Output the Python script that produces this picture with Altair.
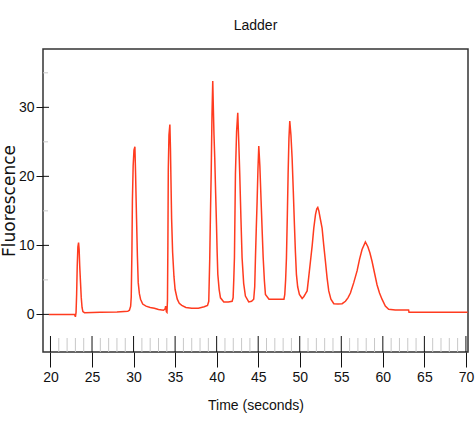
import altair as alt
import pandas as pd

# ---- data ----
time_s = [
    19.8, 22.9, 23.0, 23.08, 23.15, 23.22, 23.3, 23.38, 23.45, 23.52, 23.6, 23.7, 23.8, 23.9, 24.1, 26.0, 28.0, 29.3,
    29.5, 29.65, 29.72, 29.8, 29.86, 29.95, 30.05, 30.16, 30.24, 30.3, 30.36, 30.46, 30.56, 30.7, 30.84, 31.1, 31.5,
    32.0, 32.5, 33.0, 33.6, 33.8, 33.86, 33.95, 34.02,
    34.08, 34.13, 34.18, 34.26, 34.37, 34.44, 34.5, 34.58, 34.7, 34.86, 35.0, 35.26, 35.5, 35.8, 36.3, 37.0, 37.8,
    38.5, 38.9, 39.05,
    39.17, 39.26, 39.34, 39.44, 39.53, 39.6, 39.68, 39.77, 39.88, 39.98, 40.06, 40.14, 40.3, 40.46, 40.86, 41.4, 41.86,
    41.98, 42.06, 42.14, 42.26, 42.4, 42.54, 42.66, 42.78, 42.92, 43.06, 43.25, 43.46, 43.86, 44.2, 44.46,
    44.58, 44.67, 44.77, 44.87, 44.97, 45.07, 45.2, 45.35, 45.48, 45.6, 45.75, 45.87, 46.3, 47.2, 48.1,
    48.2, 48.3, 48.4, 48.5, 48.6, 48.7, 48.8, 48.94, 49.08, 49.22, 49.36, 49.48, 49.6, 49.75, 49.96, 50.29,
    50.5, 50.7, 50.89, 51.09, 51.29, 51.5, 51.69, 51.9, 52.05, 52.17, 52.3, 52.45, 52.69, 52.89, 53.09, 53.29, 53.49,
    53.75, 54.1, 54.6, 55.1,
    55.5, 55.8, 56.1, 56.5, 56.9, 57.2, 57.5, 57.9, 58.2, 58.45, 58.7, 59.0, 59.3, 59.6, 59.9, 60.3, 60.7, 61.5,
    63.1, 63.15, 70.2,
]
fluorescence = [
    0.0, 0.0, -0.35, 0.3, 3.0, 7.0, 9.8, 10.4, 9.4, 7.0, 5.0, 2.5, 1.0, 0.4, 0.25, 0.3, 0.35, 0.45,
    0.6, 1.2, 2.5, 9.0, 16.5, 21.5, 23.8, 24.3, 20.5, 17.0, 13.8, 8.5, 4.6, 3.0, 2.2, 1.5, 1.2,
    1.0, 0.9, 0.7, 0.6, 0.8, 1.2, 0.4, 0.3,
    2.0, 10.0, 21.0, 26.0, 27.5, 24.0, 19.5, 13.8, 9.0, 5.5, 3.6, 2.2, 1.6, 1.3, 1.0, 0.9, 0.9,
    1.1, 1.3, 1.9,
    8.2, 15.0, 20.3, 29.0, 33.8, 30.0, 26.0, 22.7, 17.5, 13.0, 9.0, 5.8, 3.6, 2.4, 1.8, 1.8, 1.9,
    2.4, 5.0, 8.2, 20.3, 26.5, 29.2, 25.0, 20.3, 14.0, 8.2, 4.5, 2.65, 1.8, 1.9, 2.2,
    4.0, 8.2, 12.5, 16.4, 21.0, 24.4, 21.5, 16.4, 12.0, 8.2, 4.8, 2.9, 2.2, 2.2, 2.2,
    2.9, 5.0, 8.2, 14.0, 20.3, 25.5, 28.0, 26.0, 22.7, 18.0, 13.0, 9.0, 5.8, 4.0, 2.9, 2.3,
    2.6, 3.0, 3.4, 5.5, 7.7, 10.0, 12.5, 14.5, 15.3, 15.5, 15.0, 14.0, 12.5, 10.0, 7.7, 5.3, 3.4,
    2.2, 1.55, 1.5, 1.55,
    1.9, 2.4, 3.1, 4.6, 6.3, 8.0, 9.4, 10.5, 9.8, 8.9, 7.7, 6.0, 4.3, 3.1, 2.2, 1.2, 0.75, 0.65,
    0.65, 0.3, 0.3,
]

x_major_ticks = [20, 25, 30, 35, 40, 45, 50, 55, 60, 65, 70]
x_minor_ticks = [t for t in range(20, 70) if t % 5 != 0]
y_major_ticks = [0, 10, 20, 30]
y_minor_ticks = [5, 15, 25, 35]

X_DOMAIN = [19.1, 70.25]
Y_DOMAIN = [-5.45, 38.45]
W, H = 425, 303

SANS = "Liberation Sans"

df = pd.DataFrame({"time": time_s, "fluorescence": fluorescence})

xscale = alt.Scale(domain=X_DOMAIN, nice=False, zero=False)
yscale = alt.Scale(domain=Y_DOMAIN, nice=False, zero=False)

xaxis = alt.Axis(values=x_major_ticks, title="Time (seconds)", format="d",
                 tickSize=15, labelPadding=3, labelFlush=False, labelOverlap=False,
                 titleY=46, titleBaseline="top")
yaxis = alt.Axis(values=y_major_ticks, title="Fluorescence", format="d",
                 tickSize=7, labelPadding=2, labelFlush=False,
                 titleX=-25, titleY=H / 2, titleAngle=270,
                 titleBaseline="bottom", titleAlign="center",
                 titleFont="DejaVu Sans", titleFontSize=17)

xenc = alt.X("time:Q", scale=xscale, axis=xaxis, title="Time (seconds)")
yenc = alt.Y("fluorescence:Q", scale=yscale, axis=yaxis, title="Fluorescence")

line = alt.Chart(df).mark_line(color="#ff3b1f", strokeWidth=1.5, interpolate="linear").encode(
    x=xenc, y=yenc,
)

xminor = alt.Chart(pd.DataFrame({"time": x_minor_ticks})).mark_rule(
    color="#c8c8c8", strokeWidth=1).encode(
    x=xenc, y=alt.value(H - 14), y2=alt.value(H),
)
xmajor = alt.Chart(pd.DataFrame({"time": x_major_ticks})).mark_rule(
    color="#111111", strokeWidth=1).encode(
    x=xenc, y=alt.value(H - 16), y2=alt.value(H),
)
yminor = alt.Chart(pd.DataFrame({"fluorescence": y_minor_ticks})).mark_rule(
    color="#c8c8c8", strokeWidth=1).encode(
    y=yenc, x=alt.value(0), x2=alt.value(5),
)
ymajor = alt.Chart(pd.DataFrame({"fluorescence": y_major_ticks})).mark_rule(
    color="#111111", strokeWidth=1).encode(
    y=yenc, x=alt.value(0), x2=alt.value(6),
)

chart = alt.layer(xminor, xmajor, yminor, ymajor, line).properties(
    width=W, height=H,
    background="white",
    autosize=alt.AutoSizeParams(type="none"),
    padding={"left": 43, "top": 49, "right": 8, "bottom": 69},
    title=alt.TitleParams("Ladder", anchor="middle", frame="group", fontSize=14,
                          font=SANS, fontWeight="normal", color="#111111",
                          baseline="alphabetic", offset=5),
).configure_view(
    stroke="#333333", strokeWidth=1.5, fill="white"
).configure_axis(
    grid=False, domain=False, tickColor="#111111", tickWidth=1,
    labelFont=SANS, labelFontSize=14, labelColor="#111111",
    titleFont=SANS, titleFontSize=14, titleColor="#111111", titleFontWeight="normal",
)

chart.save("out.html", embed_options={"renderer": "svg", "actions": False})
